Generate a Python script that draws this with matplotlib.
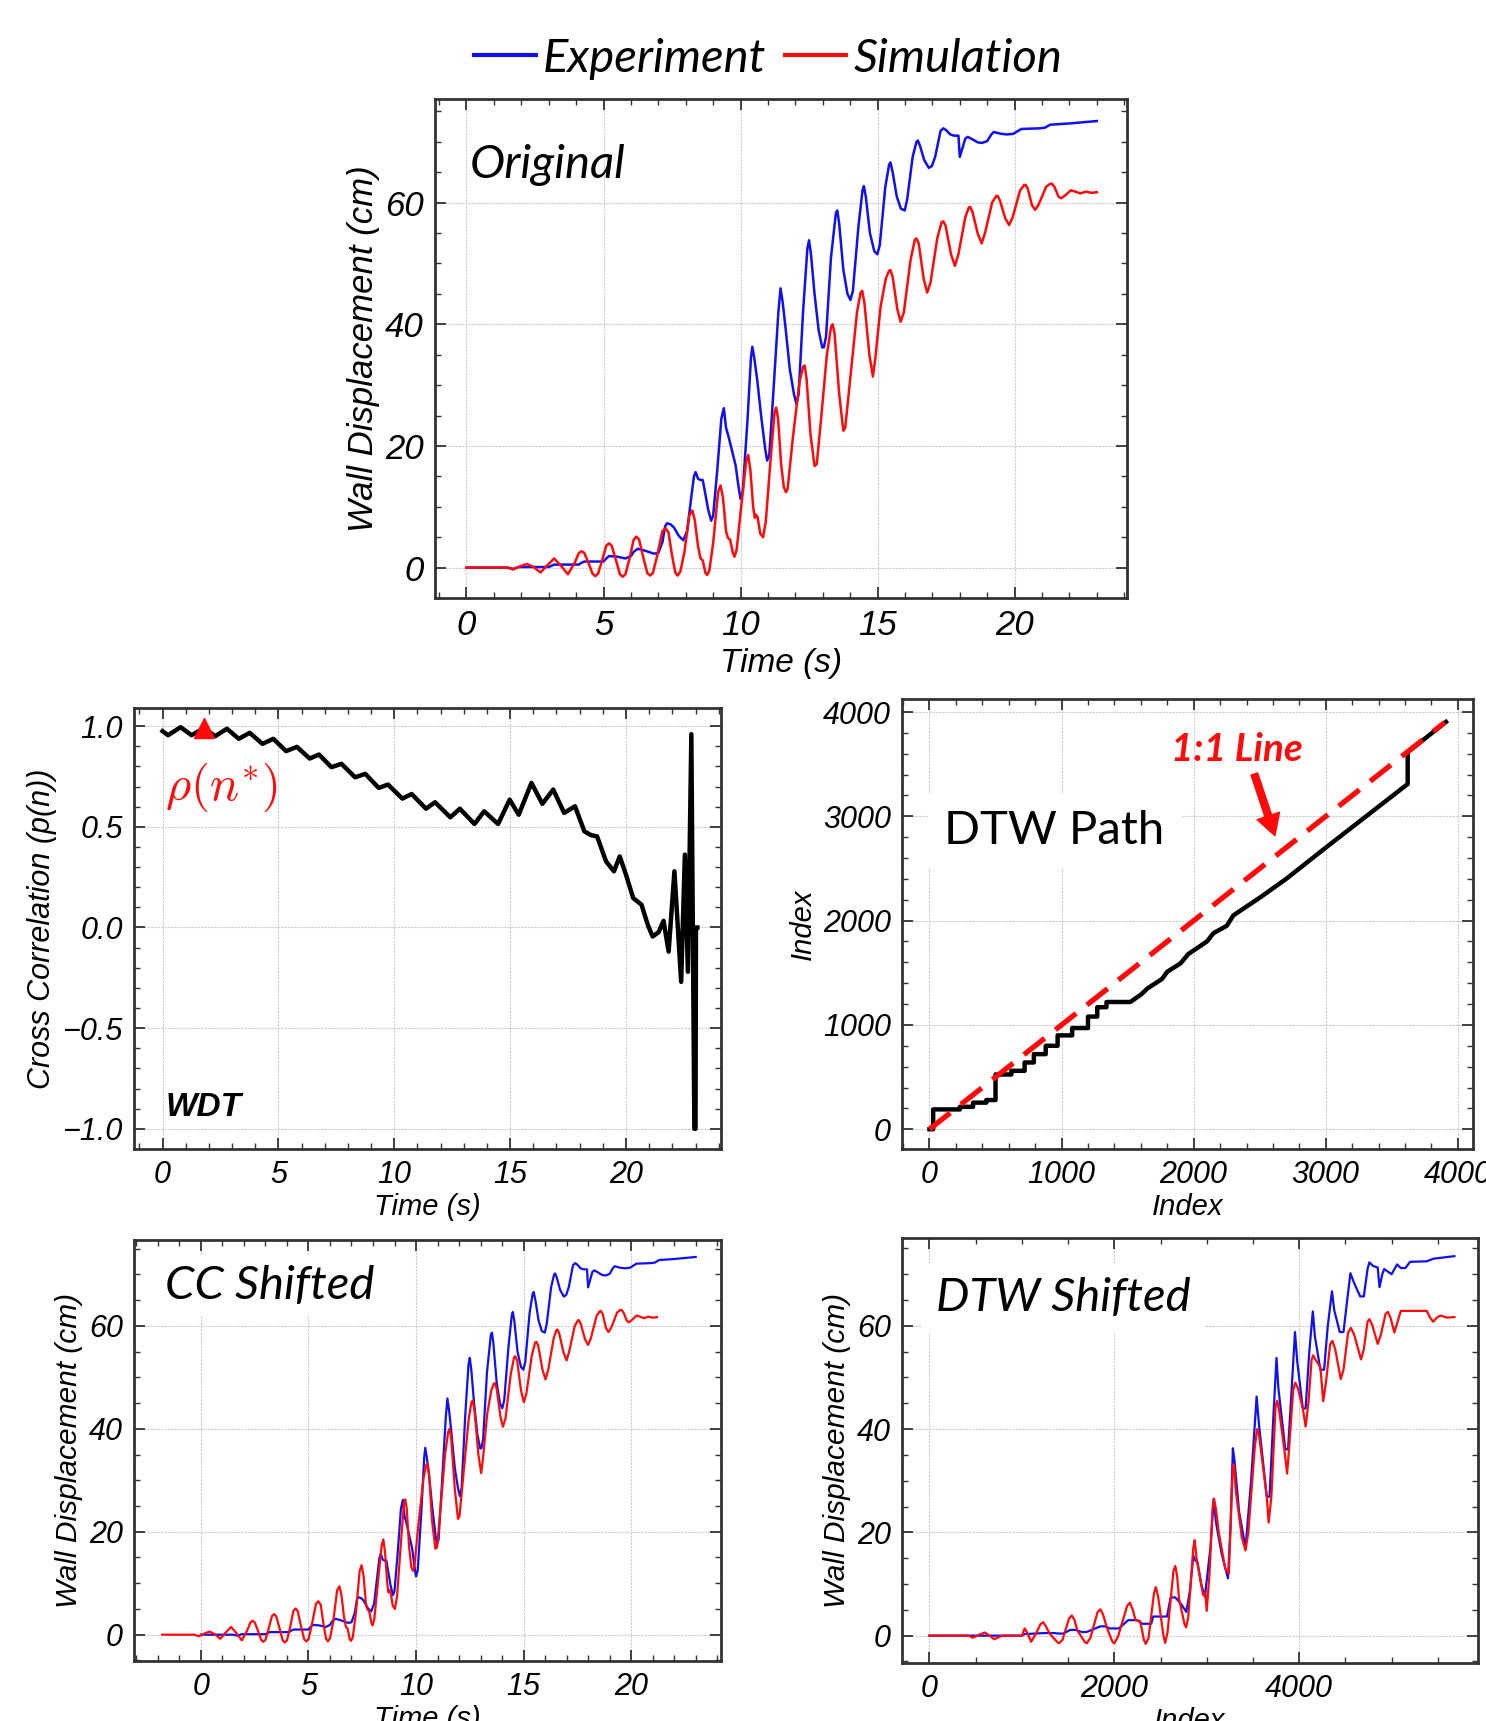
import numpy as np
import matplotlib.pyplot as plt
from matplotlib.ticker import MultipleLocator
from matplotlib.lines import Line2D

# ---- data ----
# original experiment (time s, displacement cm)
exp_t = [0, 1.5, 1.7, 1.9, 3.0, 3.1, 3.2, 4.1, 4.2, 4.3, 5.0, 5.1, 5.2, 5.5, 5.8, 6.0, 6.1, 6.25,
         6.5, 6.84, 7.0, 7.15, 7.25, 7.32, 7.45, 7.57, 7.75, 7.91, 8.05, 8.2, 8.3, 8.36, 8.45,
         8.54, 8.62, 8.72, 8.82, 8.93, 9.0, 9.15, 9.3, 9.39, 9.47, 9.57, 9.7, 9.82, 9.92, 10.0,
         10.08, 10.25, 10.38, 10.43, 10.5, 10.61, 10.75, 10.9, 10.97, 11.05, 11.2, 11.38, 11.46,
         11.54, 11.64, 11.8, 11.95, 12.04, 12.12, 12.28, 12.44, 12.5, 12.57, 12.7, 12.85, 12.98,
         13.04, 13.12, 13.3, 13.48, 13.53, 13.6, 13.75, 13.9, 14.01, 14.1, 14.3, 14.45, 14.5,
         14.57, 14.72, 14.88, 14.99, 15.08, 15.28, 15.42, 15.47, 15.55, 15.7, 15.85, 15.99, 16.08,
         16.28, 16.42, 16.47, 16.55, 16.7, 16.87, 16.98, 17.1, 17.3, 17.4, 17.5, 17.65, 17.79,
         17.95, 18.0, 18.1, 18.2, 18.29, 18.5, 18.65, 18.81, 19.0, 19.15, 19.24, 19.5, 19.73,
         19.95, 20.1, 20.25, 20.9, 21.1, 21.3, 22.0, 23.0]
exp_v = [0, 0, -0.2, 0.1, 0.1, 0.3, 0.5, 0.5, 0.8, 1.0, 1.0, 1.5, 1.9, 1.8, 1.5, 1.9, 2.6, 3.1,
         2.8, 2.3, 2.4, 4.2, 6.8, 7.3, 7.1, 6.6, 5.2, 4.5, 6.0, 11.5, 15.0, 15.7, 14.6,
         14.4, 14.4, 12.0, 9.5, 7.7, 8.5, 16.0, 24.5, 26.2, 23.0, 21.4, 19.0, 16.8, 13.5, 11.3,
         12.5, 24.0, 34.5, 36.3, 34.5, 30.8, 25.0, 19.5, 17.6, 18.5, 29.0, 42.0, 45.9,
         43.5, 39.5, 32.5, 28.5, 26.9, 28.5, 42.0, 52.5, 53.8, 51.5, 45.0, 39.0, 36.2,
         36.2, 38.0, 51.0, 58.3, 58.7, 56.5, 49.0, 45.0, 44.0, 45.5, 56.0, 62.0, 62.7,
         61.0, 55.0, 52.0, 51.5, 53.0, 62.5, 66.2, 66.6, 65.0, 61.0, 59.0, 58.7, 60.5,
         67.5, 70.0, 70.2, 69.3, 67.0, 65.7, 66.0, 67.5, 71.8, 72.2, 71.9, 71.2, 71.0,
         71.0, 67.5, 69.0, 70.5, 70.8, 70.3, 69.9, 69.8, 70.1, 71.2, 71.6, 71.3, 71.2,
         71.3, 71.7, 72.1, 72.2, 72.3, 72.8, 73.0, 73.4]

# original simulation
sim_t = [0, 1.5, 1.7, 1.95, 2.2, 2.45, 2.7, 2.95, 3.2, 3.45, 3.7, 3.95,
         4.1, 4.2, 4.3, 4.45, 4.6, 4.7, 4.8, 4.95,
         5.1, 5.2, 5.3, 5.45, 5.6, 5.7, 5.8, 5.95,
         6.1, 6.2, 6.3, 6.45, 6.6, 6.7, 6.8, 6.95,
         7.15, 7.26, 7.37, 7.5, 7.62, 7.7, 7.8, 7.95,
         8.13, 8.24, 8.33, 8.45, 8.54, 8.62, 8.72, 8.78, 8.86, 9.0,
         9.18, 9.27, 9.36, 9.47, 9.54, 9.62, 9.72, 9.78, 9.86, 10.0,
         10.2, 10.28, 10.36, 10.46, 10.52, 10.56, 10.62, 10.72, 10.82, 10.92, 11.1,
         11.24, 11.3, 11.37, 11.48, 11.58, 11.66, 11.72, 11.9, 12.15,
         12.28, 12.34, 12.41, 12.55, 12.7, 12.78, 12.95, 13.15,
         13.3, 13.36, 13.43, 13.6, 13.75, 13.82, 14.0, 14.25,
         14.38, 14.44, 14.52, 14.7, 14.83, 14.92, 15.11, 15.3,
         15.42, 15.47, 15.55, 15.72, 15.84, 15.96, 16.2,
         16.36, 16.42, 16.5, 16.68, 16.81, 16.93, 17.18,
         17.34, 17.4, 17.48, 17.68, 17.82, 17.95, 18.2,
         18.33, 18.38, 18.46, 18.66, 18.8, 18.92, 19.18,
         19.33, 19.38, 19.46, 19.66, 19.8, 19.93, 20.2,
         20.35, 20.4, 20.48, 20.63, 20.75, 20.87, 21.15,
         21.3, 21.36, 21.45, 21.6, 21.7, 21.85, 22.05, 22.15, 22.4, 22.6, 22.8, 23.0]
sim_v = [0, 0, -0.3, 0.2, 0.6, 0.1, -0.8, 0.4, 1.5, 0.3, -1.1, 0.8,
         2.4, 2.7, 2.4, 0.8, -1.0, -1.4, -1.0, 1.2,
         3.6, 4.0, 3.6, 1.3, -1.1, -1.5, -1.1, 1.5,
         4.6, 5.1, 4.6, 1.7, -0.9, -1.3, -0.9, 1.8,
         6.0, 6.5, 5.8, 2.0, -0.8, -1.3, -0.7, 2.5,
         8.6, 9.4, 7.8, 3.5, 1.5, 1.2, -0.9, -1.2, -0.5, 4.0,
         12.4, 13.5, 11.5, 6.0, 4.9, 4.6, 2.4, 1.8, 3.0, 9.0,
         17.3, 18.5, 16.0, 10.0, 8.2, 8.7, 8.3, 5.6, 5.0, 7.5, 18.0,
         25.5, 26.3, 24.5, 17.0, 13.2, 12.4, 13.0, 21.0, 30.5,
         33.0, 33.2, 31.0, 22.0, 16.7, 17.0, 25.0, 35.0,
         39.5, 40.0, 38.5, 28.5, 22.5, 23.0, 31.0, 42.0,
         45.2, 45.5, 43.5, 35.0, 31.4, 34.5, 42.9, 47.5,
         48.8, 48.9, 47.8, 42.5, 40.4, 42.0, 50.5,
         53.9, 54.1, 53.3, 47.5, 45.2, 46.8, 54.2,
         56.8, 56.9, 56.2, 51.5, 49.6, 51.5, 57.6,
         59.2, 59.3, 58.5, 54.8, 53.3, 55.0, 60.0,
         61.1, 61.1, 60.4, 57.4, 56.3, 57.6, 62.0,
         62.9, 62.9, 62.3, 59.6, 58.8, 59.6, 62.6,
         63.1, 63.1, 62.6, 61.0, 60.7, 61.2, 62.0, 61.9, 61.5, 61.8, 61.6, 61.7]

# cross correlation vs lag time
cc_t = [0, 0.24, 0.78, 1.25, 1.8, 2.27, 2.78, 3.29, 3.76, 4.31, 4.78, 5.33, 5.8, 6.35, 6.75,
        7.29, 7.72, 8.31, 8.75, 9.33, 9.73, 10.35, 10.75, 11.37, 11.76, 12.42, 12.83, 13.46,
        13.88, 14.48, 14.98, 15.37, 15.92, 16.39, 16.86, 17.33, 17.8, 18.2, 18.5, 18.75, 19.14,
        19.48, 19.73, 20.0, 20.31, 20.67, 20.94, 21.15, 21.41, 21.62, 21.84, 22.09, 22.38,
        22.54, 22.67, 22.82, 22.95, 23.0, 23.02, 23.08]
cc_v = [0.975, 0.955, 0.995, 0.955, 0.99, 0.95, 0.987, 0.937, 0.967, 0.912, 0.937, 0.876, 0.897,
        0.839, 0.859, 0.796, 0.813, 0.746, 0.763, 0.693, 0.71, 0.64, 0.663, 0.59, 0.622, 0.547,
        0.59, 0.514, 0.577, 0.514, 0.635, 0.56, 0.718, 0.614, 0.685, 0.569, 0.602, 0.478,
        0.458, 0.453, 0.328, 0.279, 0.353, 0.262, 0.146, 0.113, 0.013, -0.045, -0.023, 0.033,
        -0.12, 0.279, -0.27, 0.362, -0.22, 0.96, -1.0, -1.0, 0.0, 0.0]
lag_best = 1.8
rho_best = 0.99

# DTW warping path
path_i = [0, 28, 28, 230, 230, 330, 330, 430, 430, 500, 500, 620, 620, 720, 720, 790, 790, 880,
          880, 970, 970, 1080, 1080, 1200, 1200, 1270, 1270, 1340, 1340, 1520, 1600, 1650,
          1760, 1800, 1900, 1960, 2100, 2150, 2250, 2300, 2500, 2700, 2800, 3000, 3620, 3620,
          3910]
path_j = [0, 0, 190, 190, 215, 215, 255, 255, 280, 280, 525, 525, 560, 560, 640, 640, 720, 720,
          800, 800, 900, 900, 970, 970, 1080, 1080, 1170, 1170, 1220, 1220, 1290, 1350,
          1440, 1510, 1590, 1680, 1800, 1880, 1950, 2050, 2220, 2400, 2500, 2700, 3310, 3615,
          3905]
one_to_one = [0, 3900]

# DTW aligned series (path index)
dtw_exp_k = [0, 1000, 1030, 1250, 1350, 1400, 1450, 1520, 1580, 1650, 1700, 1850, 1900, 1950,
             2050, 2150, 2250, 2300, 2400, 2420, 2570, 2610, 2660, 2720, 2780, 2820, 2855, 2875,
             2900, 2940, 2980, 3040, 3075, 3100, 3160, 3230, 3260, 3283, 3300, 3350, 3420, 3480,
             3540, 3565, 3650, 3680, 3720, 3755, 3775, 3850, 3880, 3920, 3955, 3980, 4040, 4070,
             4110, 4148, 4170, 4230, 4270, 4310, 4355, 4380, 4440, 4480, 4520, 4555, 4590, 4660,
             4700, 4740, 4760, 4800, 4850, 4870, 4900, 4920, 5000, 5060, 5100, 5150, 5200, 5380,
             5450, 5680]
dtw_exp_v = [0, 0, 0.3, 0.5, 0.5, 0.4, 0.4, 1.1, 1.1, 0.7, 0.7, 1.8, 1.8, 1.4,
             1.4, 3.0, 3.0, 2.3, 2.3, 3.7, 3.7, 7.4, 7.4, 6.2, 4.6, 9, 15.5, 14.6,
             14.2, 10, 7.5, 17, 26.5, 22, 16, 11.1, 22, 36.3, 34, 24, 17, 30,
             46.3, 41, 26.9, 26.9, 42, 53.8, 48, 36.1, 36.1, 48, 58.8, 53, 44, 44,
             55, 62.8, 58, 51.5, 51.5, 60, 66.7, 63, 58.8, 58.8, 65, 70.2, 68.5, 65.7,
             65.7, 71, 72.3, 71.6, 71.3, 67.5, 70, 71, 70, 71.9, 71.2, 71.2, 72.4, 72.5,
             73, 73.5]
dtw_sim_k = [0, 420, 470, 540, 600, 650, 700, 760, 800, 1000, 1030, 1060, 1100, 1150, 1200,
             1230, 1260, 1300, 1380, 1400, 1440, 1510, 1540, 1570, 1600, 1680, 1700, 1740, 1820,
             1850, 1880, 1920, 1980, 2000, 2040, 2140, 2170, 2200, 2230, 2280, 2320, 2340, 2370,
             2430, 2450, 2475, 2530, 2550, 2575, 2640, 2660, 2680, 2700, 2760, 2777, 2800, 2855,
             2870, 2890, 2960, 2985, 3000, 3030, 3065, 3080, 3100, 3130, 3200, 3240, 3265, 3283,
             3295, 3315, 3380, 3420, 3450, 3520, 3545, 3565, 3650, 3670, 3700, 3745, 3762, 3785,
             3840, 3870, 3890, 3935, 3958, 3985, 4040, 4070, 4100, 4135, 4152, 4175, 4230, 4260,
             4290, 4335, 4360, 4390, 4450, 4480, 4530, 4560, 4595, 4670, 4700, 4740, 4760, 4790,
             4850, 4880, 4935, 4960, 4990, 5030, 5060, 5100, 5380, 5420, 5450, 5490, 5530, 5600,
             5680]
dtw_sim_v = [0, 0, -0.4, 0.2, 0.6, 0.0, -0.7, -0.2, 0, 0, 1.4, 0.5, -1.2, 0.3, 2.2,
             2.6, 1.8, 0.4, -1.2, -1.5, -0.8, 3.3, 3.9, 3.0, 1.0, -1.2, -1.5, -0.5, 4.6,
             5.1, 4.0, 1.5, -1.2, -1.5, -0.2, 5.8, 6.4, 5.0, 3.0, 2.8, -0.8, -1.6, -0.5,
             8.3, 9.4, 7.5, 0.2, -1.4, 0.5, 12.5, 13.5, 11.5, 7.2, 2.2, 1.6, 3.5, 17.0,
             18.5, 15, 7.9, 8.2, 4.8, 12, 25.0, 26.5, 24.5, 20, 13, 12, 25, 33.0,
             33.2, 28, 19, 16.5, 20, 36.5, 40, 39, 26.9, 21.9, 27, 44.5, 45.5, 43.5,
             36, 31.4, 36, 47.5, 49, 48, 44, 40.5, 45, 53.5, 54.3, 53.5, 52, 45.4,
             49, 56.4, 57.1, 55.5, 49.7, 51.5, 58.7, 59.6, 58.3, 53.5, 55.5, 60.8, 61.3, 60.2,
             56.5, 58, 62.3, 62.7, 61.5, 58.7, 60.5, 62.9, 62.9, 61.5, 60.8, 61.6, 62, 61.6,
             61.7]

BLUE = '#1010f0'
RED = '#ff0a0a'
SPINE = '#333333'

plt.rcParams['font.family'] = ['Liberation Sans', 'DejaVu Sans']
plt.rcParams['mathtext.fontset'] = 'cm'


def style_ax(ax, fs, xmaj, xmin, ymaj, ymin):
    ax.xaxis.set_major_locator(MultipleLocator(xmaj))
    ax.xaxis.set_minor_locator(MultipleLocator(xmin))
    ax.yaxis.set_major_locator(MultipleLocator(ymaj))
    ax.yaxis.set_minor_locator(MultipleLocator(ymin))
    ax.tick_params(which='both', direction='in', top=True, right=True, colors=SPINE,
                   labelcolor='black', labelsize=fs)
    ax.tick_params(which='major', length=8, width=1.3, pad=8)
    ax.tick_params(which='minor', length=4, width=1.0)
    ax.grid(True, which='major', color='#cccccc', lw=0.8, ls=(0, (2, 1)))
    ax.set_axisbelow(True)
    for s in ax.spines.values():
        s.set_color(SPINE)
        s.set_linewidth(2.0)
    for lbl in ax.get_xticklabels() + ax.get_yticklabels():
        lbl.set_fontstyle('italic')


fig = plt.figure(figsize=(14.86, 17.21), dpi=100)

# --- top: original ---
ax1 = fig.add_axes([0.2927, 0.6525, 0.4657, 0.2899])
ax1.plot(exp_t, exp_v, color=BLUE, lw=1.8)
ax1.plot(sim_t, sim_v, color=RED, lw=1.8)
ax1.set_xlim(-1.15, 24.1)
ax1.set_ylim(-5, 77)
style_ax(ax1, 25, 5, 1, 20, 5)
ax1.set_xlabel('Time (s)', fontsize=24, fontstyle='italic', labelpad=4)
ax1.set_ylabel('Wall Displacement (cm)', fontsize=25, fontstyle='italic')
ax1.text(0.05, 0.868, 'Original', transform=ax1.transAxes, fontsize=34,
         family='Lato', style='italic', ha='left', va='center')

fig.legend([Line2D([], [], color=BLUE, lw=3), Line2D([], [], color=RED, lw=3)],
           ['Experiment', 'Simulation'], loc='center', bbox_to_anchor=(0.517, 0.966),
           ncol=2, frameon=False, handlelength=1.3, handletextpad=0.15, columnspacing=0.4,
           prop={'family': 'Lato', 'style': 'italic', 'size': 34})

# --- middle left: cross correlation ---
ax2 = fig.add_axes([0.0902, 0.3324, 0.3950, 0.2562])
ax2.plot(cc_t, cc_v, color='black', lw=3.2)
ax2.plot([lag_best], [rho_best], marker='^', color=RED, markersize=15, ls='none')
ax2.set_xlim(-1.23, 24.1)
ax2.set_ylim(-1.1, 1.09)
style_ax(ax2, 22, 5, 1, 0.5, 0.1)
ax2.set_xlabel('Time (s)', fontsize=21, fontstyle='italic', labelpad=2)
ax2.set_ylabel('Cross Correlation (p(n))', fontsize=22, fontstyle='italic')
ax2.text(0.053, 0.819, r'$\rho(n^{*})$', transform=ax2.transAxes, fontsize=35,
         color=RED, ha='left', va='center')
ax2.text(0.053, 0.093, 'WDT', transform=ax2.transAxes, fontsize=24,
         fontweight='bold', fontstyle='italic', ha='left', va='center')

# --- middle right: DTW path ---
ax3 = fig.add_axes([0.6070, 0.3324, 0.3843, 0.2615])
ax3.plot(path_i, path_j, color='black', lw=3.2, zorder=3)
ax3.plot(one_to_one, one_to_one, color=RED, lw=3.8, ls=(0, (5, 2.6)), zorder=4)
ax3.set_xlim(-208, 4115)
ax3.set_ylim(-189, 4126)
style_ax(ax3, 22, 1000, 200, 1000, 200)
ax3.set_xlabel('Index', fontsize=21, fontstyle='italic', labelpad=2)
ax3.set_ylabel('Index', fontsize=21, fontstyle='italic')
ax3.text(0.074, 0.707, 'DTW Path', transform=ax3.transAxes, fontsize=34, family='Lato',
         ha='left', va='center', bbox=dict(facecolor='white', edgecolor='none', pad=12))
ax3.text(0.587, 0.887, '1:1 Line', transform=ax3.transAxes, fontsize=28, family='Lato',
         fontweight='bold', fontstyle='italic', color=RED, ha='center', va='center')
ax3.annotate('', xy=(0.653, 0.696), xytext=(0.617, 0.833), xycoords='axes fraction',
             arrowprops=dict(facecolor=RED, edgecolor=RED, width=5, headwidth=17,
                             headlength=15, shrink=0))

# --- bottom left: CC shifted ---
ax4 = fig.add_axes([0.0902, 0.0349, 0.3950, 0.2446])
ax4.plot(exp_t, exp_v, color=BLUE, lw=1.6)
ax4.plot(np.array(sim_t) - lag_best, sim_v, color=RED, lw=1.6)
ax4.set_xlim(-3.11, 24.18)
ax4.set_ylim(-5.1, 76.7)
style_ax(ax4, 22, 5, 1, 20, 5)
ax4.set_xlabel('Time (s)', fontsize=21, fontstyle='italic', labelpad=2)
ax4.set_ylabel('Wall Displacement (cm)', fontsize=21.5, fontstyle='italic')
ax4.text(0.053, 0.891, 'CC Shifted', transform=ax4.transAxes, fontsize=34, family='Lato',
         style='italic', ha='left', va='center',
         bbox=dict(facecolor='white', edgecolor='none', pad=6))

# --- bottom right: DTW shifted ---
ax5 = fig.add_axes([0.6070, 0.0337, 0.3876, 0.2469])
ax5.plot(dtw_exp_k, dtw_exp_v, color=BLUE, lw=1.6)
ax5.plot(dtw_sim_k, dtw_sim_v, color=RED, lw=1.6)
ax5.set_xlim(-297, 5935)
ax5.set_ylim(-5.3, 77)
style_ax(ax5, 22, 2000, 500, 20, 5)
ax5.set_xlabel('Index', fontsize=21, fontstyle='italic', labelpad=2)
ax5.set_ylabel('Wall Displacement (cm)', fontsize=21.5, fontstyle='italic')
ax5.text(0.059, 0.859, 'DTW Shifted', transform=ax5.transAxes, fontsize=34, family='Lato',
         style='italic', ha='left', va='center',
         bbox=dict(facecolor='white', edgecolor='none', pad=10))

fig.savefig('out.png', dpi=100)
